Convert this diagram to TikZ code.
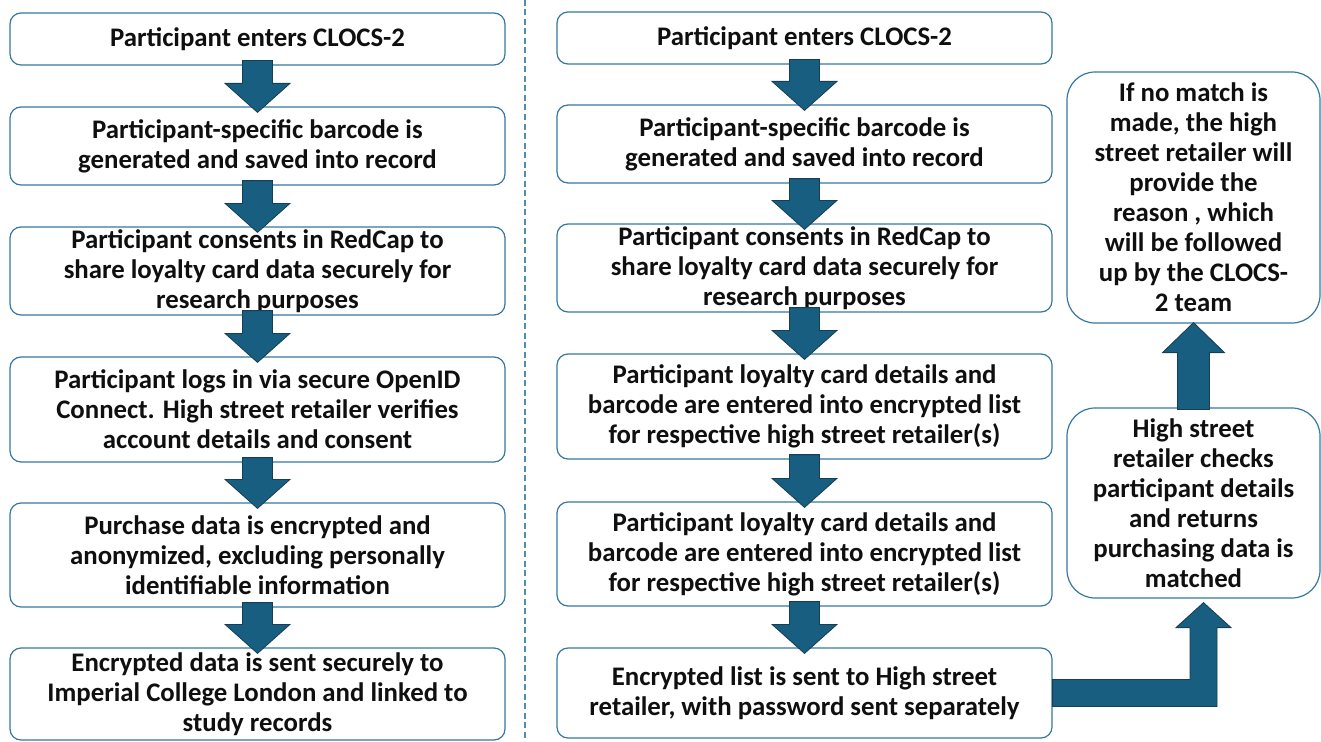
\documentclass[tikz,border=0pt]{standalone}
\usepackage{fontspec}
\setmainfont{Carlito}
\usetikzlibrary{calc}

\definecolor{boxline}{RGB}{52,120,160}
\definecolor{arrowfill}{RGB}{24,94,128}
\definecolor{arrowedge}{RGB}{22,62,84}
\definecolor{ink}{RGB}{15,15,15}

\tikzset{
  stepbox/.style={draw=boxline, line width=1.2pt, rounded corners=11pt, fill=white,
    minimum width=495pt, align=center, inner sep=0pt, text=ink,
    font=\bfseries\fontsize{26.8}{30}\selectfont},
  sidebox/.style={stepbox, minimum width=253pt, rounded corners=28pt},
  blockarrow/.style={fill=arrowfill, draw=arrowedge, line width=0.8pt, line join=miter},
  divider/.style={draw=boxline!85, line width=1.3pt, dash pattern=on 6pt off 3.5pt}
}

% vertical block arrow from the bottom of #1 into the top of #2
\newcommand\blockdown[2]{%
  \draw[blockarrow] let \p1=(#1.south), \p2=(#2.north) in
    (\x1-15pt,\y1+5pt) -- (\x1-15pt,\y2+23pt) -- (\x1-32.5pt,\y2+23pt) --
    (\x1,\y2-6pt) -- (\x1+32.5pt,\y2+23pt) -- (\x1+15pt,\y2+23pt) --
    (\x1+15pt,\y1+5pt) -- cycle;}

\begin{document}
\begin{tikzpicture}[x=1pt,y=-1pt]
\useasboundingbox (0,0) rectangle (1321,741);

\draw[divider] (525,0) coordinate (dtop) -- (525,741) coordinate (dbot);

% left column
\node[stepbox, minimum height=52pt]  (L1) at (257.5,39)    {Participant enters CLOCS-2};
\node[stepbox, minimum height=78pt]  (L2) at (257.5,146)   {Participant-specific barcode is\\generated and saved into record};
\node[stepbox, minimum height=88pt]  (L3) at (257.5,271)   {Participant consents in RedCap to\\share loyalty card data securely for\\research purposes};
\node[stepbox, minimum height=105pt] (L4) at (257.5,409.5) {Participant logs in via secure OpenID\\Connect. High street retailer verifies\\account details and consent};
\node[stepbox, minimum height=104pt] (L5) at (257.5,555)   {Purchase data is encrypted and\\anonymized, excluding personally\\identifiable information};
\node[stepbox, minimum height=92pt]  (L6) at (257.5,694)   {Encrypted data is sent securely to\\Imperial College London and linked to\\study records};

% right column
\node[stepbox, minimum height=52pt]  (R1) at (804.5,38)    {Participant enters CLOCS-2};
\node[stepbox, minimum height=78pt]  (R2) at (804.5,144)   {Participant-specific barcode is\\generated and saved into record};
\node[stepbox, minimum height=88pt]  (R3) at (804.5,268)   {Participant consents in RedCap to\\share loyalty card data securely for\\research purposes};
\node[stepbox, minimum height=105pt] (R4) at (804.5,406.5) {Participant loyalty card details and\\barcode are entered into encrypted list\\for respective high street retailer(s)};
\node[stepbox, minimum height=104pt] (R5) at (804.5,554)   {Participant loyalty card details and\\barcode are entered into encrypted list\\for respective high street retailer(s)};
\node[stepbox, minimum height=90pt]  (R6) at (804.5,693)   {Encrypted list is sent to High street\\retailer, with password sent separately};

% retailer side
\node[sidebox, minimum height=251pt] (S1) at (1193.5,197.5) {If no match is\\made, the high\\street retailer will\\provide the\\reason , which\\will be followed\\up by the CLOCS-\\2 team};
\node[sidebox, minimum height=190pt] (S2) at (1193.5,503)   {High street\\retailer checks\\participant details\\and returns\\purchasing data is\\matched};

% downward arrows
\blockdown{L1}{L2}
\blockdown{L2}{L3}
\blockdown{L3}{L4}
\blockdown{L4}{L5}
\blockdown{L5}{L6}
\blockdown{R1}{R2}
\blockdown{R2}{R3}
\blockdown{R3}{R4}
\blockdown{R4}{R5}
\blockdown{R5}{R6}

% upward arrow between the retailer boxes
\draw[blockarrow] let \p1=(S2.north), \p2=(S1.south) in
  (\x1-16pt,\y1-2pt) -- (\x1-16pt,\y2-29pt) -- (\x1-31pt,\y2-29pt) --
  (\x1,\y2+1pt) -- (\x1+31pt,\y2-29pt) -- (\x1+16pt,\y2-29pt) --
  (\x1+16pt,\y1-2pt) -- cycle;

% bent arrow from the encrypted list to the retailer check
\draw[blockarrow] let \p1=(R6.east), \p2=(S2.south) in
  (\x1,\y1+13.5pt) -- (\x2-3.5pt,\y1+13.5pt) -- (\x2-3.5pt,\y2-29pt) --
  (\x2-17.5pt,\y2-29pt) -- (\x2+10pt,\y2-4pt) -- (\x2+37.5pt,\y2-29pt) --
  (\x2+23.5pt,\y2-29pt) -- (\x2+23.5pt,\y1-13.5pt) -- (\x1,\y1-13.5pt) -- cycle;
\end{tikzpicture}
\end{document}
